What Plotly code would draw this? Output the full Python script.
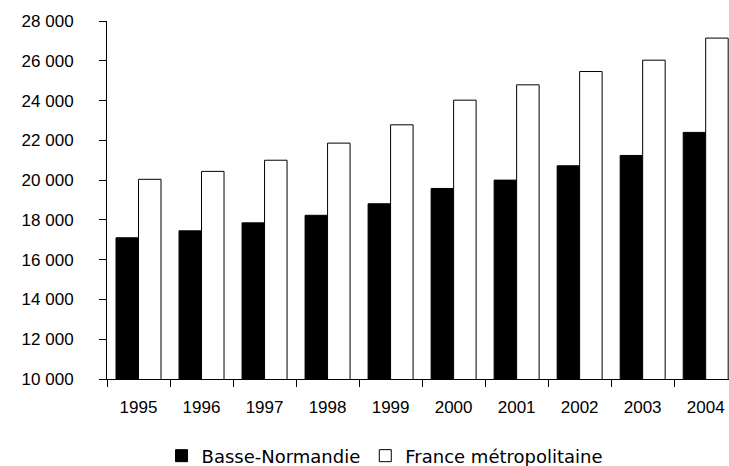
import plotly.graph_objects as go

years = ["1995", "1996", "1997", "1998", "1999", "2000", "2001", "2002", "2003", "2004"]
basse_normandie = [17100, 17450, 17850, 18230, 18810, 19580, 20000, 20720, 21240, 22400]
france_metro = [20040, 20440, 21000, 21860, 22780, 24020, 24790, 25460, 26030, 27140]
y_ticks = [10000, 12000, 14000, 16000, 18000, 20000, 22000, 24000, 26000, 28000]

fig = go.Figure()
fig.add_trace(go.Bar(x=years, y=basse_normandie, name="Basse-Normandie",
                     marker=dict(color="black", line=dict(color="black", width=1))))
fig.add_trace(go.Bar(x=years, y=france_metro, name="France métropolitaine",
                     marker=dict(color="white", line=dict(color="black", width=1))))

fig.update_layout(
    width=729, height=466,
    margin=dict(l=107, r=0, t=21, b=87, autoexpand=False),
    paper_bgcolor="white", plot_bgcolor="white",
    barmode="group", bargap=0.286, bargroupgap=0,
    separators=", ",
    showlegend=True,
    legend=dict(orientation="h", x=0.447, xanchor="center", y=-0.215, yanchor="middle",
                font=dict(family="DejaVu Sans", size=18, color="black"),
                traceorder="normal"),
    font=dict(family="Liberation Sans, Arial", size=17, color="black"),
)
fig.update_xaxes(type="category", range=[-0.5, 9.37], showline=True, linecolor="black", linewidth=1,
                 ticks="outside", tickson="boundaries", ticklen=7, tickcolor="black",
                 showgrid=False, ticklabelstandoff=13, zeroline=False, automargin=False)
fig.update_yaxes(range=[10000, 28000], tickvals=y_ticks, tickformat=",d",
                 showline=True, linecolor="black", linewidth=1,
                 ticks="outside", ticklen=7, tickcolor="black",
                 showgrid=False, zeroline=False, ticklabelstandoff=22, automargin=False)

fig.write_html("out.html", config={"displayModeBar": False},
               post_script="document.body.style.margin='0';document.body.style.overflow='hidden';")
